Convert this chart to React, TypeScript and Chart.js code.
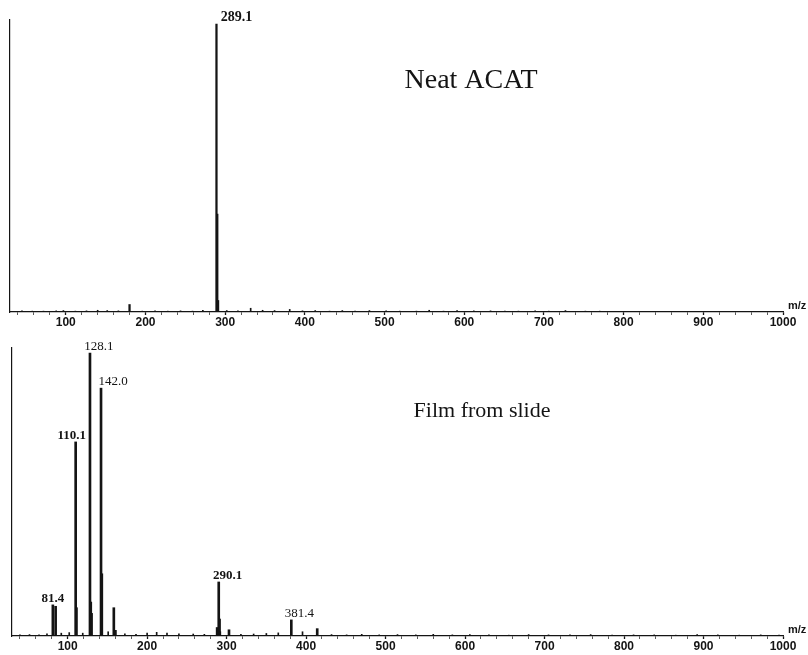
import { useEffect, useRef } from "react";
import { Chart, registerables } from "chart.js";

Chart.register(...registerables);

// Shared m/z axis range and labelled ticks
const MZ_MIN = 30;
const MZ_MAX = 1000;
const MZ_TICKS = [100, 200, 300, 400, 500, 600, 700, 800, 900, 1000];
const MZ_MINOR_STEP = 20;

// Neat ACAT: m/z and relative abundance (%)
const neatMz = [
  45, 58, 72, 88, 97, 112, 126, 140, 152, 166, 180.0, 196, 212, 228, 244, 259, 272,
  289.1, 290.1, 291.1, 302, 316, 332, 347, 362, 381, 397, 413, 431, 447, 463, 481,
  502, 519, 540, 556, 574, 591, 612, 633, 651, 668, 689, 706, 727, 752, 770,
];
const neatAbundance = [
  0.4, 0.3, 0.3, 0.4, 0.5, 0.3, 0.4, 0.6, 0.5, 0.4, 2.6, 0.3, 0.4, 0.3, 0.4, 0.3, 0.6,
  100, 34, 4, 0.5, 0.4, 1.3, 0.6, 0.5, 0.9, 0.4, 0.5, 0.3, 0.5, 0.3, 0.5,
  0.4, 0.3, 0.3, 0.6, 0.3, 0.5, 0.4, 0.4, 0.3, 0.3, 0.4, 0.3, 0.5, 0.3, 0.3,
];
const neatLabelled = [289.1];

// Film from slide: m/z and relative abundance (%)
const filmMz = [
  40, 52, 64, 74, 81.4, 84.9, 92, 102, 110.1, 111.1, 119, 128.1, 129.1, 130.1, 142.0,
  143.0, 151, 158.1, 160.1, 172, 186, 200, 212, 225, 240, 258, 272, 288.1, 290.1, 291.1,
  292.1, 303, 318, 334, 350, 365, 381.4, 395.5, 414, 432, 451, 470, 492, 515, 538,
  560, 584, 606, 630, 655, 680, 705, 732, 758, 785, 812, 838, 865, 892, 918,
  945, 972, 995,
];
const filmAbundance = [
  0.4, 0.5, 0.4, 0.8, 11, 10.5, 1.0, 1.2, 68.6, 10, 1.0, 100, 12, 8, 87.6,
  22, 1.5, 10, 2, 0.8, 0.6, 1.0, 1.3, 1.0, 0.8, 0.7, 0.6, 3, 19.1, 6,
  1.5, 2.2, 0.6, 0.7, 0.9, 1.1, 5.7, 1.5, 2.6, 0.5, 0.4, 0.6, 0.4, 0.5, 0.4,
  0.6, 0.4, 0.5, 0.4, 0.3, 0.5, 0.4, 0.4, 0.5, 0.3, 0.4, 0.4, 0.3, 0.5, 0.4,
  0.3, 0.4, 0.3,
];
const filmLabelled = [81.4, 110.1, 128.1, 142.0, 290.1, 381.4];

const TITLE_NEAT = "Neat ACAT";
const TITLE_FILM = "Film from slide";

// ---- styling ----
const INK = "#141414";
const SERIF = '"Liberation Serif", "Times New Roman", serif';
const SANS = '"Liberation Sans", Arial, sans-serif';
const CANVAS_W = 808;

// horizontal nudge and weight of each peak annotation
const LABEL_STYLE: Record<string, { dx: number; bold: boolean; size: number }> = {
  "289.1": { dx: 20, bold: true, size: 14 },
  "81.4": { dx: 0, bold: true, size: 13 },
  "110.1": { dx: -4, bold: true, size: 13 },
  "128.1": { dx: 9, bold: false, size: 13 },
  "142.0": { dx: 12, bold: false, size: 13 },
  "290.1": { dx: 9, bold: true, size: 13 },
  "381.4": { dx: 8, bold: false, size: 13 },
};

type Panel = {
  mz: number[];
  abundance: number[];
  labelled: number[];
  title: string;
  titleX: number;
  titleY: number;
  titleSize: number;
  height: number;
  plotTop: number;
  plotLeft: number;
  plotRight: number;
  axisBand: number;
  yMax: number;
  peakWidth: number;
};

const NEAT_PANEL: Panel = {
  mz: neatMz,
  abundance: neatAbundance,
  labelled: neatLabelled,
  title: TITLE_NEAT,
  titleX: 471,
  titleY: 81,
  titleSize: 28,
  height: 330,
  plotTop: 20,
  plotLeft: 10,
  plotRight: 783,
  axisBand: 18,
  yMax: 101.4,
  peakWidth: 1.6,
};

const FILM_PANEL: Panel = {
  mz: filmMz,
  abundance: filmAbundance,
  labelled: filmLabelled,
  title: TITLE_FILM,
  titleX: 482,
  titleY: 81,
  titleSize: 22,
  height: 325,
  plotTop: 18,
  plotLeft: 12,
  plotRight: 783,
  axisBand: 19,
  yMax: 101.8,
  peakWidth: 2,
};

function tickValues(): number[] {
  const vals: number[] = [];
  for (let v = Math.ceil(MZ_MIN / MZ_MINOR_STEP) * MZ_MINOR_STEP; v <= MZ_MAX; v += MZ_MINOR_STEP) {
    if (v > MZ_MIN) vals.push(v);
  }
  return vals;
}

function annotations(p: Panel) {
  return {
    id: "spectrumText",
    afterDatasetsDraw(chart: Chart) {
      const { ctx, chartArea } = chart;
      const x = chart.scales.x;
      const y = chart.scales.y;
      ctx.save();
      ctx.fillStyle = INK;

      // peak annotations
      p.labelled.forEach((m) => {
        const idx = p.mz.indexOf(m);
        const text = m.toFixed(1);
        const st = LABEL_STYLE[text] || { dx: 0, bold: false, size: 13 };
        const px = x.getPixelForValue(m);
        const py = y.getPixelForValue(p.abundance[idx]);
        ctx.font = `${st.bold ? "bold " : ""}${st.size}px ${SERIF}`;
        ctx.textAlign = "center";
        ctx.textBaseline = "alphabetic";
        ctx.fillText(text, px + st.dx, py - 3);
      });

      // sample title
      ctx.font = `${p.titleSize}px ${SERIF}`;
      ctx.textAlign = "center";
      ctx.textBaseline = "middle";
      ctx.fillText(p.title, p.titleX, p.titleY);

      // axis unit at the right end of the m/z axis
      ctx.font = `bold 11px ${SANS}`;
      ctx.textAlign = "left";
      ctx.textBaseline = "alphabetic";
      ctx.fillText("m/z", chartArea.right + 5, chartArea.bottom - 3);
      ctx.restore();
    },
  };
}

function buildChart(canvas: HTMLCanvasElement, p: Panel): Chart {
  const points = p.mz.map((m, i) => ({ x: m, y: p.abundance[i] }));
  const peaks = points.filter((pt) => pt.y >= 2);
  const baseline = points.filter((pt) => pt.y < 2);
  const ticks = tickValues();

  return new Chart(canvas, {
    type: "bar",
    data: {
      datasets: [
        {
          data: baseline as any,
          backgroundColor: INK,
          borderWidth: 0,
          barThickness: 1,
          grouped: false,
        },
        {
          data: peaks as any,
          backgroundColor: INK,
          borderWidth: 0,
          barThickness: p.peakWidth,
          grouped: false,
        },
      ],
    },
    options: {
      animation: false,
      responsive: false,
      devicePixelRatio: 1,
      layout: {
        padding: {
          left: p.plotLeft,
          right: CANVAS_W - p.plotRight,
          top: p.plotTop,
          bottom: 0,
        },
      },
      plugins: {
        legend: { display: false },
        tooltip: { enabled: false },
      },
      scales: {
        x: {
          type: "linear",
          min: MZ_MIN,
          max: MZ_MAX,
          offset: false,
          afterBuildTicks(scale: any) {
            scale.ticks = ticks.map((v) => ({ value: v }));
          },
          afterFit(scale: any) {
            scale.height = p.axisBand;
          },
          grid: {
            display: true,
            offset: false,
            drawOnChartArea: false,
            drawTicks: true,
            tickLength: 3,
            tickColor: INK,
            tickWidth: (c: any) => (MZ_TICKS.includes(c.tick?.value) ? 1.3 : 0.7),
          },
          border: { display: true, color: INK, width: 1.3 },
          ticks: {
            autoSkip: false,
            maxRotation: 0,
            padding: 0,
            color: INK,
            font: { family: SANS, size: 12, weight: "bold" },
            callback: (v: any) => (MZ_TICKS.includes(Number(v)) ? String(v) : ""),
          },
        },
        y: {
          min: 0,
          max: p.yMax,
          afterFit(scale: any) {
            scale.width = 0;
          },
          ticks: { display: false },
          grid: { display: true, drawOnChartArea: false, drawTicks: false },
          border: { display: true, color: INK, width: 1.2 },
        },
      },
    } as any,
    plugins: [annotations(p)],
  });
}

export default function App() {
  const topRef = useRef<HTMLCanvasElement>(null);
  const bottomRef = useRef<HTMLCanvasElement>(null);

  useEffect(() => {
    document.body.style.margin = "0";
    const top = buildChart(topRef.current!, NEAT_PANEL);
    const bottom = buildChart(bottomRef.current!, FILM_PANEL);
    return () => {
      top.destroy();
      bottom.destroy();
    };
  }, []);

  return (
    <div style={{ width: CANVAS_W, height: 655, background: "#fff" }}>
      <canvas ref={topRef} width={CANVAS_W} height={NEAT_PANEL.height} style={{ display: "block" }} />
      <canvas ref={bottomRef} width={CANVAS_W} height={FILM_PANEL.height} style={{ display: "block" }} />
    </div>
  );
}
